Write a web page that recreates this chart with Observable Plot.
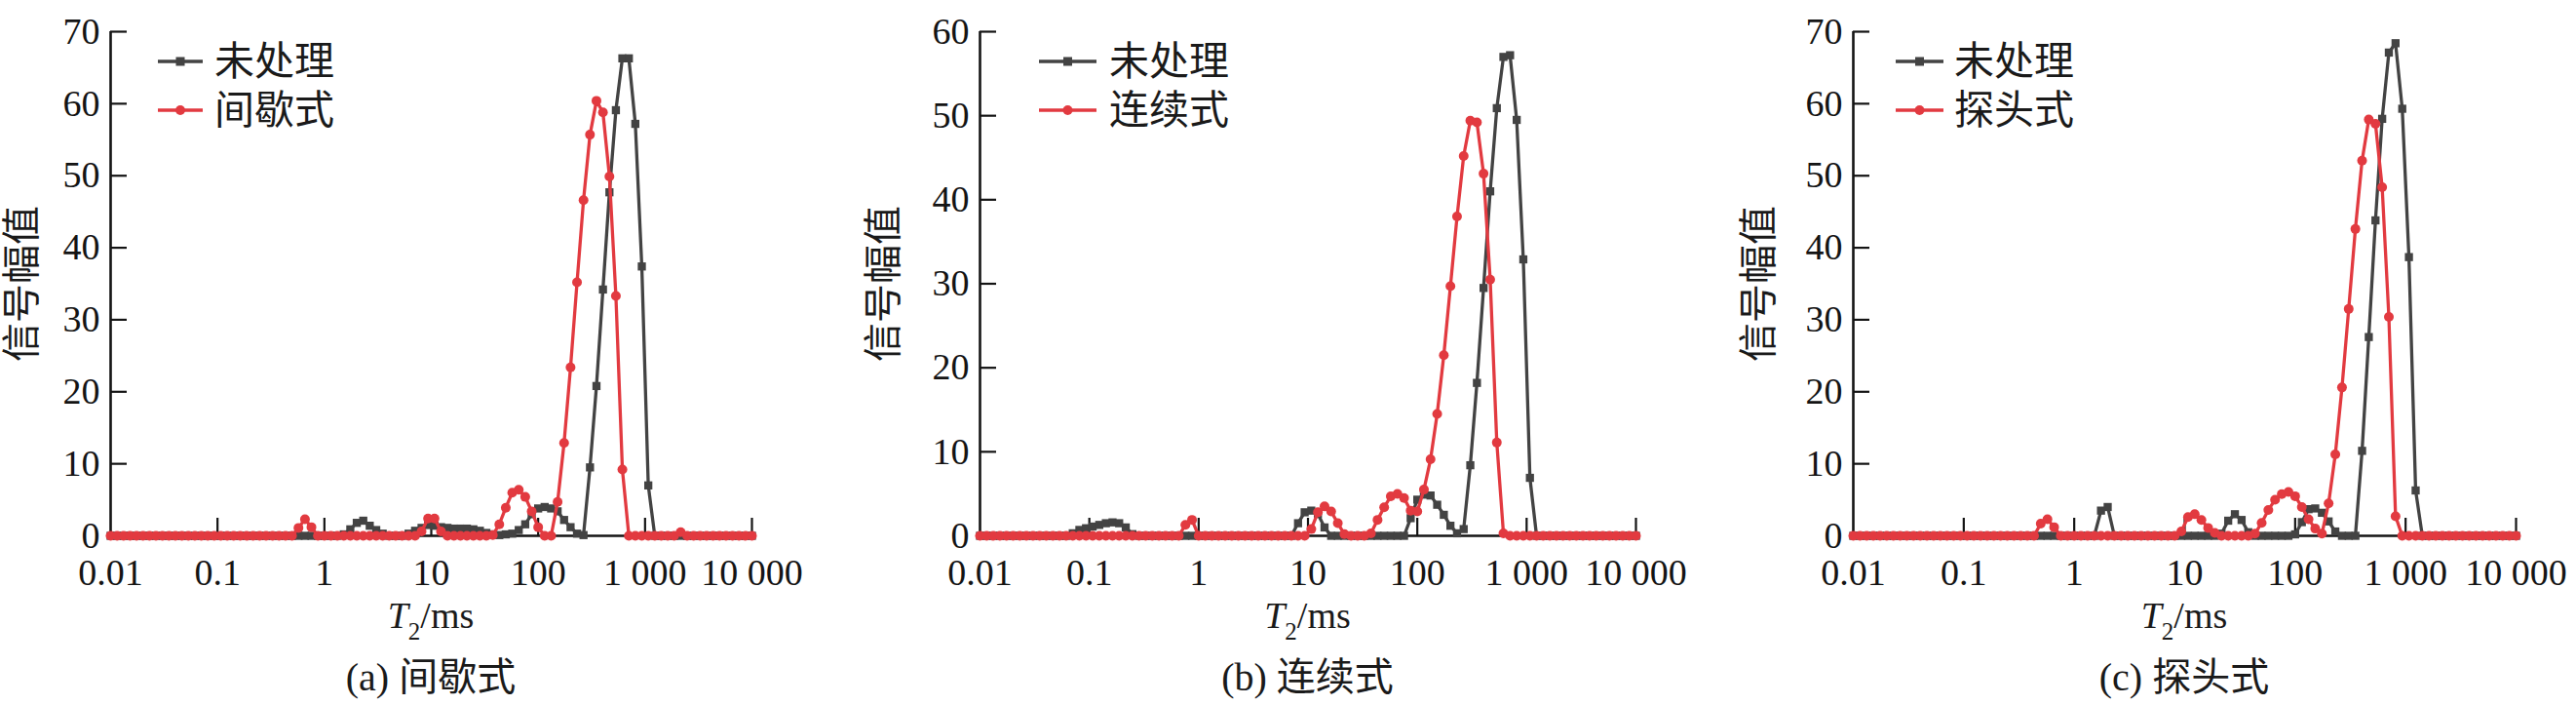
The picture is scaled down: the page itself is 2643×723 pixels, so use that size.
<!DOCTYPE html>
<html>
<head>
<meta charset="utf-8">
<script src="https://cdn.jsdelivr.net/npm/d3@7"></script>
<script src="https://cdn.jsdelivr.net/npm/@observablehq/plot@0.6"></script>
<style>
  html, body { margin: 0; padding: 0; background: #fff; }
  #root { position: relative; width: 2643px; height: 723px; overflow: hidden; background: #fff; }
  #root, #root svg, #root svg text, .ov {
    font-family: "Liberation Serif", "DejaVu Serif", serif, "Noto Sans CJK SC";
  }
  .ov { position: absolute; white-space: nowrap; color: #1a1a1a; line-height: 1; }
  svg { overflow: visible; }
</style>
</head>
<body>
<div id="root"></div>
<script>
// ---- data ----
const T2 = [
  0.01, 0.0115, 0.01322, 0.0152, 0.01748, 0.02009, 0.0231, 0.02656, 0.03054, 0.03511,
  0.04037, 0.04642, 0.05337, 0.06136, 0.07055, 0.08111, 0.09326, 0.1072, 0.1233, 0.1417,
  0.163, 0.1874, 0.2154, 0.2477, 0.2848, 0.3275, 0.3765, 0.4329, 0.4977, 0.5722,
  0.6579, 0.7565, 0.8698, 1, 1.15, 1.322, 1.52, 1.748, 2.009, 2.31,
  2.656, 3.054, 3.511, 4.037, 4.642, 5.337, 6.136, 7.055, 8.111, 9.326,
  10.72, 12.33, 14.17, 16.3, 18.74, 21.54, 24.77, 28.48, 32.75, 37.65,
  43.29, 49.77, 57.22, 65.79, 75.65, 86.98, 100, 115, 132.2, 152,
  174.8, 200.9, 231, 265.6, 305.4, 351.1, 403.7, 464.2, 533.7, 613.6,
  705.5, 811.1, 932.6, 1072, 1233, 1417, 1630, 1874, 2154, 2477,
  2848, 3275, 3765, 4329, 4977, 5722, 6579, 7565, 8698, 10000
];

const xTicks = [0.01, 0.1, 1, 10, 100, 1000, 10000];
const xTickLabels = ["0.01", "0.1", "1", "10", "100", "1 000", "10 000"];
const yTicks70 = [0, 10, 20, 30, 40, 50, 60, 70];
const yTicks60 = [0, 10, 20, 30, 40, 50, 60];

const untreatedName = "未处理";
const treatedNames = ["间歇式", "连续式", "探头式"];
const captions = ["(a) 间歇式", "(b) 连续式", "(c) 探头式"];
const yTitle = "信号幅值";

// (a)
const untreatedA = [
  0,0,0,0,0,0,0,0,0,0,
  0,0,0,0,0,0,0,0,0,0,
  0,0,0,0,0,0,0,0,0,0,
  0,0,0,0,0,0,0.2,0.9,1.8,2.1,
  1.4,0.8,0.3,0,0,0,0.3,0.7,1.1,1.5,
  1.4,1.2,1.1,1.0,1.0,1.0,0.9,0.7,0.4,0.2,
  0.1,0.2,0.3,0.8,1.6,3.0,3.8,4.0,3.8,3.4,
  2.2,1.2,0.3,0.1,9.5,20.8,34.2,47.7,59.1,66.3,
  66.3,57.2,37.4,7.0,0,0,0,0,0,0,
  0,0,0,0,0,0,0,0,0,0
];
const intermittent = [
  0,0,0,0,0,0,0,0,0,0,
  0,0,0,0,0,0,0,0,0,0,
  0,0,0,0,0,0,0,0,0,1.1,
  2.3,1.2,0,0,0,0,0,0,0,0,
  0,0,0,0,0,0,0,0,0.6,2.4,
  2.4,0.6,0,0,0,0,0,0,0,0.1,
  1.6,3.9,6.0,6.4,5.4,3.4,1.2,0,0,4.7,
  12.9,23.4,35.2,46.6,55.7,60.4,58.8,49.9,33.3,9.2,
  0,0,0,0,0,0,0,0,0.5,0,
  0,0,0,0,0,0,0,0,0,0
];
// (b)
const untreatedB = [
  0,0,0,0,0,0,0,0,0,0,
  0,0,0,0,0.3,0.7,0.9,1.1,1.3,1.5,
  1.6,1.5,1.0,0.2,0,0,0,0,0,0,
  0,0,0,0,0,0,0,0,0,0,
  0,0,0,0,0,0,0,0,1.5,2.8,
  3.0,2.6,1.0,0,0,0,0,0,0,0,
  0,0,0,0,0,2.1,4.3,4.9,4.8,3.7,
  2.5,1.2,0.3,0.8,8.4,18.2,29.5,41.0,50.9,57.0,
  57.2,49.5,32.9,6.9,0,0,0,0,0,0,
  0,0,0,0,0,0,0,0,0,0
];
const continuous = [
  0,0,0,0,0,0,0,0,0,0,
  0,0,0,0,0,0,0,0,0,0,
  0,0,0,0,0,0,0,0,0,0,
  0,1.3,1.9,0,0,0,0,0,0,0,
  0,0,0,0,0,0,0,0,0,0,
  0.8,2.8,3.5,2.9,1.5,0.2,0,0,0,0.3,
  1.9,3.4,4.7,5.0,4.5,3.0,2.9,5.5,9.1,14.5,
  21.5,29.7,38.0,45.2,49.4,49.2,43.1,30.5,11.1,0.3,
  0,0,0,0,0,0,0,0,0,0,
  0,0,0,0,0,0,0,0,0,0
];
// (c)
const untreatedC = [
  0,0,0,0,0,0,0,0,0,0,
  0,0,0,0,0,0,0,0,0,0,
  0,0,0,0,0,0,0,0,0,0,
  0,0,0,0,0,0,0,3.5,4.0,0,
  0,0,0,0,0,0,0,0,0,0,
  0,0,0,0,0,0.3,2.1,3.0,2.2,0.5,
  0,0,0,0,0,0,0.2,1.9,3.7,3.8,
  3.2,2.0,0.6,0,0,0,11.8,27.6,43.8,57.9,
  67.1,68.4,59.3,38.7,6.3,0,0,0,0,0,
  0,0,0,0,0,0,0,0,0,0
];
const probe = [
  0,0,0,0,0,0,0,0,0,0,
  0,0,0,0,0,0,0,0,0,0,
  0,0,0,0,0,0,0,0,1.7,2.3,
  1.2,0,0,0,0,0,0,0,0,0,
  0,0,0,0,0,0,0,0,0,0.6,
  2.6,3.0,2.2,1.1,0.4,0,0,0,0,0,
  0.3,1.8,3.6,5.0,5.8,6.1,5.5,4.0,2.3,1.0,
  0.3,4.5,11.3,20.6,31.5,42.6,52.1,57.8,57.2,48.4,
  30.4,2.7,0,0,0,0,0,0,0,0,
  0,0,0,0,0,0,0,0,0,0
];

// ---- layout / style ----
const GRAY = "#434343";
const RED = "#e23a40";
const INK = "#141414";
const ML = 110, MR = 30, MT = 32, MB = 62, H = 611;

const panels = [
  {x0: 113, w: 658, yTicks: yTicks70, u: untreatedA, t: intermittent, name: treatedNames[0], cap: captions[0], leg: [49, 95, 107], yl: 90},
  {x0: 1005, w: 673, yTicks: yTicks60, u: untreatedB, t: continuous, name: treatedNames[1], cap: captions[1], leg: [61, 120, 133], yl: 98},
  {x0: 1901, w: 680, yTicks: yTicks70, u: untreatedC, t: probe, name: treatedNames[2], cap: captions[2], leg: [44, 93, 104], yl: 96}
];

const root = document.getElementById("root");

function addDiv(html, style) {
  const d = document.createElement("div");
  d.className = "ov";
  d.innerHTML = html;
  Object.assign(d.style, style);
  root.appendChild(d);
  return d;
}

function swatch(color, symbol, len) {
  const c = len / 2;
  const m = symbol === "square"
    ? `<rect x="${c - 4.5}" y="5.5" width="9" height="9" fill="${color}"/>`
    : `<circle cx="${c}" cy="10" r="5" fill="${color}"/>`;
  return `<svg width="${len}" height="20" style="display:block"><line x1="0" y1="10" x2="${len}" y2="10" stroke="${color}" stroke-width="3.4"/>${m}</svg>`;
}

panels.forEach(p => {
  const du = T2.map((t, i) => ({t, v: p.u[i]}));
  const dt = T2.map((t, i) => ({t, v: p.t[i]}));
  const ymax = p.yTicks[p.yTicks.length - 1];
  const frameH = H - MT - MB;
  const chart = Plot.plot({
    width: ML + p.w + MR,
    height: H,
    marginLeft: ML, marginRight: MR, marginTop: MT, marginBottom: MB,
    x: {type: "log", domain: [0.01, 10000]},
    y: {domain: [0, ymax]},
    style: "font-size: 38px; color: #141414; background: transparent; overflow: visible;",
    marks: [
      Plot.axisX({ticks: xTicks, tickFormat: d => xTickLabels[xTicks.indexOf(d)], tickSize: 0, tickPadding: 24, label: null, fill: INK}),
      Plot.axisY({ticks: p.yTicks, tickSize: 0, tickPadding: 11, label: null, fill: INK}),
      Plot.tickX(xTicks.slice(1), {x: d => d, insetTop: frameH - 18, stroke: INK, strokeWidth: 2.2}),
      Plot.tickY(p.yTicks.slice(1), {y: d => d, insetRight: p.w - 17, stroke: INK, strokeWidth: 2.2}),
      Plot.ruleX([0.01], {stroke: INK, strokeWidth: 2.6}),
      Plot.ruleY([0], {stroke: INK, strokeWidth: 2.6}),
      Plot.line(du, {x: "t", y: "v", stroke: GRAY, strokeWidth: 3.3}),
      Plot.dot(du, {x: "t", y: "v", symbol: "square", fill: GRAY, r: 4.7}),
      Plot.line(dt, {x: "t", y: "v", stroke: RED, strokeWidth: 3.3}),
      Plot.dot(dt, {x: "t", y: "v", symbol: "circle", fill: RED, r: 5})
    ]
  });
  chart.style.position = "absolute";
  chart.style.left = (p.x0 - ML) + "px";
  chart.style.top = "0px";
  root.appendChild(chart);

  const cx = p.x0 + p.w / 2;
  addDiv(yTitle, {left: (p.x0 - p.yl) + "px", top: "291px", fontSize: "40px", transform: "translate(-50%,-50%) rotate(-90deg)"});
  addDiv(`<i>T</i><span style="font-size:25px;position:relative;top:12px">2</span>/ms`,
    {left: cx + "px", top: "612px", fontSize: "38px", transform: "translateX(-50%)"});
  addDiv(p.cap, {left: cx + "px", top: "695px", fontSize: "40px", transform: "translate(-50%,-50%)"});
  const len = p.leg[1] - p.leg[0];
  [[untreatedName, GRAY, "square", 62.5], [p.name, RED, "circle", 112.5]].forEach(([label, col, sym, y]) => {
    addDiv(swatch(col, sym, len), {left: (p.x0 + p.leg[0]) + "px", top: (y - 10) + "px"});
    addDiv(label, {left: (p.x0 + p.leg[2]) + "px", top: y + "px", fontSize: "41px", transform: "translateY(-50%)"});
  });
});
</script>
</body>
</html>
